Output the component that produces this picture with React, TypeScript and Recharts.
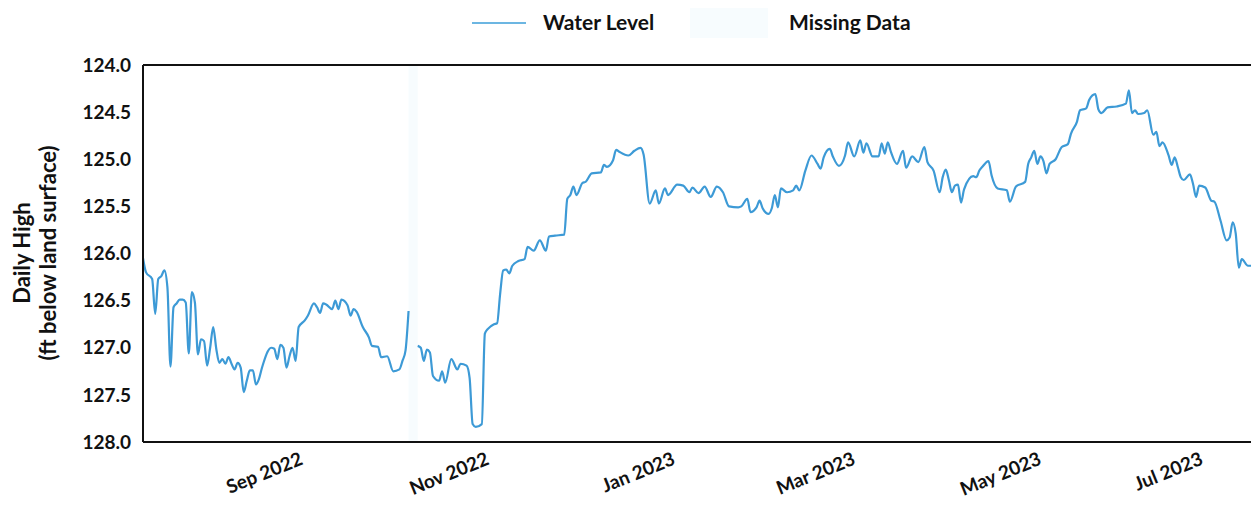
import { LineChart, Line, XAxis, YAxis, ReferenceLine, ReferenceArea, Label } from 'recharts';

// daily high, ft below land surface
const dates = [
  '2022-07-12', '2022-07-13', '2022-07-15', '2022-07-16', '2022-07-17', '2022-07-18', '2022-07-19', '2022-07-20',
  '2022-07-21', '2022-07-22', '2022-07-23', '2022-07-24', '2022-07-25', '2022-07-26', '2022-07-27', '2022-07-28',
  '2022-07-29', '2022-07-30', '2022-07-31', '2022-08-01', '2022-08-02', '2022-08-03', '2022-08-04', '2022-08-05',
  '2022-08-06', '2022-08-07', '2022-08-08', '2022-08-09', '2022-08-10', '2022-08-11', '2022-08-12', '2022-08-13',
  '2022-08-14', '2022-08-15', '2022-08-16', '2022-08-17', '2022-08-18', '2022-08-19', '2022-08-20', '2022-08-23',
  '2022-08-24', '2022-08-25', '2022-08-26', '2022-08-27', '2022-08-28', '2022-08-29', '2022-08-30', '2022-08-31',
  '2022-09-01', '2022-09-03', '2022-09-04', '2022-09-06', '2022-09-07', '2022-09-08', '2022-09-09', '2022-09-10',
  '2022-09-12', '2022-09-13', '2022-09-14', '2022-09-15', '2022-09-17', '2022-09-18', '2022-09-19', '2022-09-20',
  '2022-09-22', '2022-09-24', '2022-09-25', '2022-09-27', '2022-09-28', '2022-09-30', '2022-10-02', '2022-10-04',
  '2022-10-05', '2022-10-06', '2022-10-07', '2022-10-09', '2022-10-10', '2022-10-11', '2022-10-12', '2022-10-13',
  '2022-10-14', '2022-10-15', '2022-10-17', '2022-10-18', '2022-10-19', '2022-10-21', '2022-10-23', '2022-10-24',
  '2022-10-26', '2022-10-27', '2022-10-28', '2022-10-29', '2022-10-31', '2022-11-01', '2022-11-02', '2022-11-04',
  '2022-11-05', '2022-11-06', '2022-11-07', '2022-11-08', '2022-11-09', '2022-11-10', '2022-11-12', '2022-11-14',
  '2022-11-15', '2022-11-17', '2022-11-19', '2022-11-21', '2022-11-22', '2022-11-24', '2022-11-27', '2022-11-28',
  '2022-11-29', '2022-11-30', '2022-12-01', '2022-12-03', '2022-12-04', '2022-12-06', '2022-12-09', '2022-12-10',
  '2022-12-11', '2022-12-13', '2022-12-14', '2022-12-15', '2022-12-18', '2022-12-20', '2022-12-22', '2022-12-23',
  '2022-12-25', '2022-12-27', '2022-12-28', '2022-12-30', '2022-12-31', '2023-01-03', '2023-01-05', '2023-01-07',
  '2023-01-08', '2023-01-10', '2023-01-12', '2023-01-14', '2023-01-16', '2023-01-18', '2023-01-20', '2023-01-23',
  '2023-01-24', '2023-01-26', '2023-01-27', '2023-01-29', '2023-01-30', '2023-01-31', '2023-02-02', '2023-02-03',
  '2023-02-04', '2023-02-05', '2023-02-06', '2023-02-08', '2023-02-10', '2023-02-11', '2023-02-12', '2023-02-14',
  '2023-02-16', '2023-02-18', '2023-02-19', '2023-02-20', '2023-02-22', '2023-02-23', '2023-02-25', '2023-02-27',
  '2023-02-28', '2023-03-02', '2023-03-04', '2023-03-05', '2023-03-06', '2023-03-08', '2023-03-10', '2023-03-11',
  '2023-03-12', '2023-03-13', '2023-03-14', '2023-03-16', '2023-03-18', '2023-03-19', '2023-03-21', '2023-03-23',
  '2023-03-25', '2023-03-26', '2023-03-28', '2023-03-30', '2023-03-31', '2023-04-01', '2023-04-02', '2023-04-03',
  '2023-04-04', '2023-04-05', '2023-04-06', '2023-04-07', '2023-04-10', '2023-04-11', '2023-04-12', '2023-04-13',
  '2023-04-15', '2023-04-16', '2023-04-18', '2023-04-21', '2023-04-22', '2023-04-24', '2023-04-27', '2023-04-28',
  '2023-04-29', '2023-04-30', '2023-05-01', '2023-05-02', '2023-05-03', '2023-05-04', '2023-05-05', '2023-05-07',
  '2023-05-09', '2023-05-11', '2023-05-12', '2023-05-14', '2023-05-15', '2023-05-17', '2023-05-18', '2023-05-20',
  '2023-05-21', '2023-05-22', '2023-05-24', '2023-05-27', '2023-05-30', '2023-05-31', '2023-06-01', '2023-06-02',
  '2023-06-03', '2023-06-05', '2023-06-06', '2023-06-08', '2023-06-09', '2023-06-10', '2023-06-11', '2023-06-13',
  '2023-06-14', '2023-06-15', '2023-06-16', '2023-06-17', '2023-06-18', '2023-06-20', '2023-06-21', '2023-06-22',
  '2023-06-23', '2023-06-25', '2023-06-27', '2023-06-28', '2023-06-30', '2023-07-02', '2023-07-03', '2023-07-04',
  '2023-07-05', '2023-07-06', '2023-07-07', '2023-07-09', '2023-07-10',
];

const levels: (number | null)[] = [
  126.05, 126.2, 126.27, 126.64, 126.27, 126.24, 126.18, 126.36,
  127.2, 126.57, 126.53, 126.49, 126.49, 126.52, 127.06, 126.41,
  126.52, 127.07, 126.91, 126.93, 127.19, 127.0, 126.78, 127.01,
  127.16, 127.12, 127.17, 127.1, 127.17, 127.23, 127.16, 127.21,
  127.47, 127.35, 127.24, 127.24, 127.39, 127.33, 127.21, 127.0,
  127.01, 127.12, 126.97, 127.0, 127.21, 127.09, 127.0, 127.14,
  126.78, 126.71, 126.66, 126.53, 126.57, 126.63, 126.53, 126.54,
  126.59, 126.5, 126.59, 126.49, 126.55, 126.66, 126.59, 126.62,
  126.78, 126.89, 126.98, 126.99, 127.1, 127.09, 127.25, 127.23,
  127.14, 127.03, 126.61, null, 126.98, 127.0, 127.14, 127.02,
  127.05, 127.3, 127.35, 127.25, 127.37, 127.12, 127.23, 127.17,
  127.19, 127.32, 127.81, 127.84, 127.81, 126.85, 126.8, 126.75,
  126.74, 126.43, 126.18, 126.17, 126.21, 126.13, 126.08, 126.06,
  125.93, 125.97, 125.86, 125.97, 125.82, 125.81, 125.8, 125.42,
  125.38, 125.29, 125.38, 125.25, 125.24, 125.15, 125.14, 125.06,
  125.08, 125.01, 124.9, 124.92, 124.96, 124.91, 124.88, 124.95,
  125.47, 125.33, 125.47, 125.31, 125.38, 125.27, 125.28, 125.35,
  125.3, 125.36, 125.29, 125.4, 125.29, 125.35, 125.5, 125.51,
  125.5, 125.42, 125.56, 125.51, 125.44, 125.52, 125.58, 125.52,
  125.38, 125.51, 125.31, 125.35, 125.33, 125.28, 125.33, 125.12,
  124.96, 125.05, 125.1, 124.98, 124.89, 124.97, 125.07, 124.96,
  124.82, 124.97, 124.8, 124.93, 124.83, 124.97, 124.97, 124.83,
  124.94, 124.82, 124.92, 125.05, 124.91, 125.09, 124.97, 125.03,
  124.87, 125.03, 125.12, 125.35, 125.19, 125.11, 125.22, 125.35,
  125.28, 125.27, 125.46, 125.32, 125.18, 125.19, 125.12, 125.08,
  125.02, 125.17, 125.31, 125.33, 125.45, 125.29, 125.24, 125.05,
  124.98, 124.91, 125.05, 124.97, 125.02, 125.15, 125.05, 125.0,
  124.87, 124.84, 124.73, 124.6, 124.48, 124.46, 124.37, 124.31,
  124.47, 124.51, 124.45, 124.44, 124.41, 124.27, 124.51, 124.48,
  124.52, 124.51, 124.48, 124.74, 124.71, 124.86, 124.82, 124.96,
  125.06, 124.98, 125.08, 125.19, 125.22, 125.16, 125.26, 125.4,
  125.28, 125.3, 125.44, 125.45, 125.65, 125.86, 125.83, 125.67,
  125.79, 126.15, 126.06, 126.13, 126.13,
];

const missingFrom = '2022-10-07';
const missingTo = '2022-10-10';

const xTickDates = ['2022-09-01', '2022-11-01', '2023-01-01', '2023-03-01', '2023-05-01', '2023-07-01'];
const yTicks = [124, 124.5, 125, 125.5, 126, 126.5, 127, 127.5, 128];
const monthNames = ['Jan', 'Feb', 'Mar', 'Apr', 'May', 'Jun', 'Jul', 'Aug', 'Sep', 'Oct', 'Nov', 'Dec'];

const toTime = (d: string) => Date.parse(d + 'T00:00:00Z');

const data = dates.map((d, i) => ({ t: toTime(d), level: levels[i] }));

const FONT = 'Lato, "Open Sans", sans-serif';
const LINE_COLOR = '#3d9ad6';
const MISSING_COLOR = '#f7fcfe';

function XTick({ x, y, payload }: any) {
  const dt = new Date(payload.value);
  const text = `${monthNames[dt.getUTCMonth()]} ${dt.getUTCFullYear()}`;
  return (
    <text
      x={x}
      y={y}
      dy={14}
      textAnchor="end"
      transform={`rotate(-22 ${x} ${y})`}
      fontFamily={FONT}
      fontWeight={700}
      fontSize={19}
      fill="#111"
    >
      {text}
    </text>
  );
}

function YTitle() {
  return (
    <g fontFamily={FONT} fontWeight={700} fontSize={22} fill="#111">
      <text transform="translate(30,253) rotate(-90)" textAnchor="middle">Daily High</text>
      <text transform="translate(56,253) rotate(-90)" textAnchor="middle">(ft below land surface)</text>
    </g>
  );
}

export default function App() {
  return (
    <div style={{ position: 'absolute', left: 0, top: 0, width: 1251, height: 518, background: '#fff' }}>
      <div style={{ position: 'absolute', top: 0, left: 0, width: 1251, height: 46, fontFamily: FONT, fontWeight: 700, fontSize: 21, color: '#111' }}>
        <div style={{ position: 'absolute', left: 472, top: 22, width: 54, height: 2, background: '#6cb6e2' }} />
        <div style={{ position: 'absolute', left: 543, top: 8, lineHeight: '28px' }}>Water Level</div>
        <div style={{ position: 'absolute', left: 690, top: 8, width: 78, height: 30, background: MISSING_COLOR }} />
        <div style={{ position: 'absolute', left: 789, top: 8, lineHeight: '28px' }}>Missing Data</div>
      </div>
      <LineChart width={1251} height={518} data={data} margin={{ top: 65, right: 0, bottom: 0, left: 0 }}>
        <ReferenceArea x1={toTime(missingFrom)} x2={toTime(missingTo)} fill={MISSING_COLOR} fillOpacity={1} stroke="none" />
        <XAxis
          dataKey="t"
          type="number"
          scale="time"
          domain={[toTime('2022-07-12'), toTime('2023-07-10')]}
          ticks={xTickDates.map(toTime)}
          tick={<XTick />}
          tickLine={false}
          tickMargin={3}
          height={76}
          axisLine={{ stroke: '#111', strokeWidth: 2 }}
          allowDataOverflow
        />
        <YAxis
          type="number"
          reversed
          domain={[124, 128]}
          ticks={yTicks}
          tickFormatter={(v) => Number(v).toFixed(1)}
          tick={{ fontFamily: FONT, fontWeight: 700, fontSize: 19, fill: '#111' }}
          tickLine={false}
          tickSize={8}
          tickMargin={4}
          width={143}
          axisLine={{ stroke: '#111', strokeWidth: 2 }}
        >
          <Label content={<YTitle />} />
        </YAxis>
        <ReferenceLine y={124} stroke="#111" strokeWidth={2} />
        <Line
          type="monotone"
          dataKey="level"
          stroke={LINE_COLOR}
          strokeWidth={2.2}
          dot={false}
          activeDot={false}
          connectNulls={false}
          isAnimationActive={false}
        />
      </LineChart>
    </div>
  );
}
